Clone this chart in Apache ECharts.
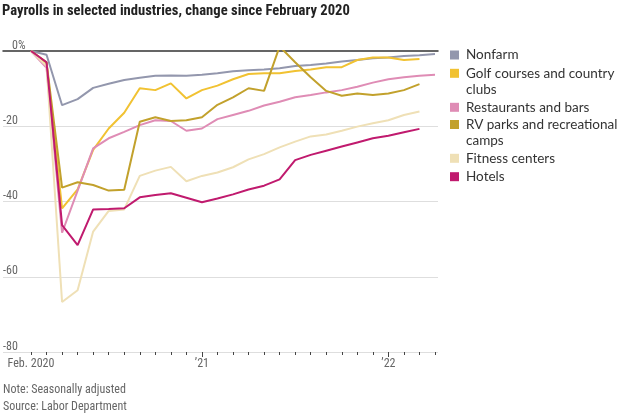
<!DOCTYPE html>
<html><head><meta charset="utf-8">
<script src="https://cdn.jsdelivr.net/npm/echarts@6/dist/echarts.min.js"></script>
<style>html,body{margin:0;padding:0;background:#fff}#c{width:624px;height:415px}</style>
</head><body><div id="c"></div>
<script>
const months = ['2020-02','2020-03','2020-04','2020-05','2020-06','2020-07','2020-08','2020-09','2020-10','2020-11','2020-12',
  '2021-01','2021-02','2021-03','2021-04','2021-05','2021-06','2021-07','2021-08','2021-09','2021-10','2021-11','2021-12',
  '2022-01','2022-02','2022-03','2022-04'];
const labelMonths = ['2020-02','2021-01','2022-01'];
const labelTexts = ['Feb. 2020','\u201921','\u201922'];
const yTicks = [-80,-60,-40,-20,0];

const nonfarm = [0,-1.0,-14.4,-12.8,-9.8,-8.7,-7.7,-7.1,-6.6,-6.5,-6.6,-6.3,-5.9,-5.4,-5.1,-4.9,-4.6,-4.0,-3.7,-3.3,-2.8,-2.4,-1.9,-1.7,-1.3,-1.1,-0.8];
const golf = [0,-3.2,-41.8,-36.8,-26.3,-20.6,-16.4,-9.9,-10.4,-8.6,-12.6,-10.4,-9.2,-7.5,-6.1,-5.9,-5.9,-5.3,-4.9,-4.3,-4.3,-2.4,-1.7,-1.7,-2.4,-2.1];
const restaurants = [0,-4.5,-48.3,-37.1,-25.9,-23.2,-21.5,-19.7,-18.4,-18.6,-21.2,-20.6,-18.1,-17.0,-15.9,-14.5,-13.5,-12.3,-11.7,-11.0,-10.4,-9.5,-8.4,-7.5,-7.0,-6.6,-6.3];
const rvParks = [0,-3.0,-36.3,-34.9,-35.6,-37.1,-36.9,-18.8,-17.6,-18.6,-18.4,-17.6,-14.3,-12.3,-9.9,-10.6,1.2,-3.0,-7.0,-10.6,-11.9,-11.3,-11.7,-11.3,-10.4,-8.8];
const fitness = [0,-4.0,-66.7,-63.6,-48.0,-42.5,-42.1,-33.2,-31.8,-30.8,-34.6,-33.2,-32.3,-30.9,-28.8,-27.4,-25.6,-24.1,-22.7,-22.2,-21.2,-20.1,-19.2,-18.4,-17.0,-16.1];
const hotels = [0,-3.0,-46.3,-51.6,-42.1,-42.0,-41.8,-38.9,-38.3,-37.8,-39.0,-40.2,-39.2,-38.1,-36.8,-35.8,-34.1,-29.0,-27.6,-26.5,-25.4,-24.3,-23.2,-22.5,-21.6,-20.7];

const seriesNames = ['Nonfarm','Golf courses and country clubs','Restaurants and bars','RV parks and recreational camps','Fitness centers','Hotels'];
const seriesData = [nonfarm, golf, restaurants, rvParks, fitness, hotels];
const colors = ['#9397ad','#f1c232','#df8cb5','#c2a12c','#efe0b6','#c01a6e'];

const cond = "'Roboto Condensed','Open Sans Condensed',sans-serif";
const chart = echarts.init(document.getElementById('c'), null, {renderer:'canvas'});
const majorIdx = labelMonths.map(m => months.indexOf(m));

// one legend per entry so two-line entries keep the swatch beside their first line
const legendCenters = [55, 73.3, 107.3, 124.5, 158.3, 176.7];
const LH = 16.5;
const legends = seriesNames.map((name, k) => {
  const twoLine = /country|recreational/.test(name);
  return {
    data: [name], orient: 'vertical', left: 450, padding: 0,
    top: legendCenters[k] - (twoLine ? LH * 1.5 : LH / 2),
    itemWidth: 9, itemHeight: 9, icon: 'rect',
    formatter: n => twoLine
      ? '\u00a0\n' + n.replace(' country ', ' country\n').replace(' recreational ', ' recreational\n')
      : n,
    textStyle: {fontFamily: 'Lato', fontSize: 13.5, color: '#333', lineHeight: LH, padding: [0, 0, 0, 2]}
  };
});

chart.setOption({
  animation: false,
  backgroundColor: '#fff',
  title: [
    {text: 'Payrolls in selected industries, change since February 2020', left: 2, top: 4, padding: 0,
     textStyle: {fontFamily: cond, fontWeight: 'bold', fontSize: 14.6, color: '#222'}},
    {text: 'Note: Seasonally adjusted\nSource: Labor Department', left: 3, top: 381, padding: 0,
     textStyle: {fontFamily: cond, fontWeight: 'normal', fontSize: 12, color: '#666', lineHeight: 17}}
  ],
  legend: legends,
  grid: [
    {left: 2, right: 186, top: 51, bottom: 63},
    {left: 31, right: 189, top: 51, bottom: 63}
  ],
  xAxis: [
    {gridIndex: 0, type: 'value', position: 'top', min: 0, max: 1,
     axisLine: {show: true, onZero: false, lineStyle: {color: '#333', width: 1.5}},
     axisTick: {show: false}, axisLabel: {show: false}, splitLine: {show: false}},
    {gridIndex: 1, type: 'category', position: 'bottom', data: months, boundaryGap: false,
     axisLine: {show: false, onZero: false},
     axisTick: {show: true, interval: 0, length: 3, lineStyle: {color: '#444', width: 1}},
     axisLabel: {show: true, interval: (i) => majorIdx.includes(i), margin: 6,
       formatter: (v) => labelTexts[labelMonths.indexOf(v)] || '',
       fontFamily: cond, fontSize: 12, color: '#666'},
     splitLine: {show: false}},
    {gridIndex: 1, type: 'category', position: 'bottom', offset: 0, data: months, boundaryGap: false,
     axisLine: {show: false, onZero: false},
     axisTick: {show: true, interval: (i) => majorIdx.slice(1).includes(i), length: 5, lineStyle: {color: '#444', width: 1}},
     axisLabel: {show: false}, splitLine: {show: false}}
  ],
  yAxis: [
    {gridIndex: 0, type: 'value', min: -80, max: 0, interval: 20,
     axisLine: {show: false}, axisTick: {show: false},
     axisLabel: {inside: true, margin: 0, verticalAlign: 'bottom', align: 'left', lineHeight: 11,
       fontFamily: cond, fontSize: 12, color: '#666',
       formatter: (v) => v === 0 ? '{z|0%}' : String(v),
       rich: {z: {fontFamily: cond, fontSize: 12, color: '#666', lineHeight: 11, padding: [0,0,0,9]}}},
     splitLine: {show: true, showMinLine: true, lineStyle: {color: ['#dedede','#dedede','#dedede','#dedede','rgba(0,0,0,0)'], width: 1}}},
    {gridIndex: 1, type: 'value', min: -80, max: 0, interval: 20, show: false, splitLine: {show: false}}
  ],
  series: seriesNames.map((name, k) => ({
    name, type: 'line', xAxisIndex: 1, yAxisIndex: 1, data: seriesData[k],
    showSymbol: false, symbol: 'none', color: colors[k],
    itemStyle: {color: colors[k]},
    lineStyle: {color: colors[k], width: 2}, z: 2 + k
  }))
});
</script></body></html>
